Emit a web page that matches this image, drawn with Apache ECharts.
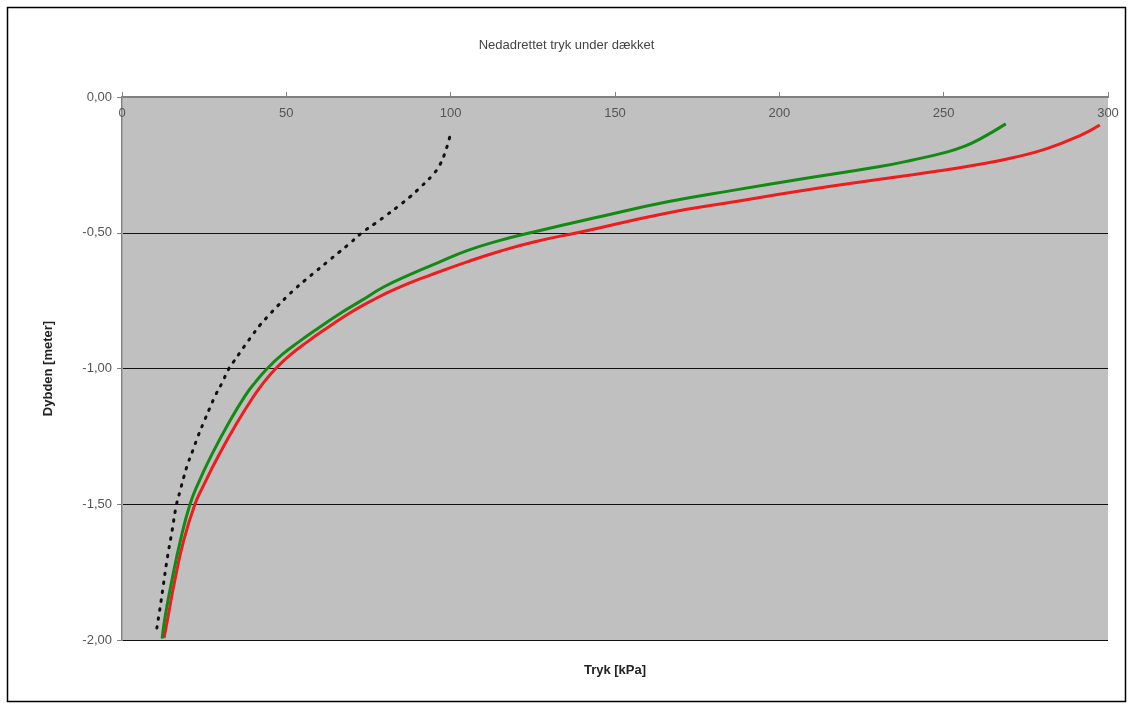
<!DOCTYPE html>
<html>
<head>
<meta charset="utf-8">
<script src="https://cdn.jsdelivr.net/npm/echarts@6/dist/echarts.min.js"></script>
<style>
html,body{margin:0;padding:0;background:#fff;}
#chart{width:1133px;height:706px;}
</style>
</head>
<body>
<div id="chart"></div>
<script>
// Data (x = tryk kPa, y = dybde m)
const seriesDotted = [[10.6,-1.956],[11.6,-1.88],[12.5,-1.805],[13.7,-1.705],[15.2,-1.60],[16.6,-1.50],[17.7,-1.45],[18.8,-1.40],[20.1,-1.348],[21.6,-1.30],[23.1,-1.25],[24.8,-1.20],[26.7,-1.146],[28.5,-1.097],[30.6,-1.049],[32.3,-1.005],[33.9,-0.976],[35.8,-0.943],[38,-0.905],[39.8,-0.875],[42,-0.84],[44.6,-0.805],[47.3,-0.77],[50.2,-0.735],[52.9,-0.704],[55.8,-0.674],[59,-0.642],[62.5,-0.607],[66,-0.572],[69.5,-0.537],[73,-0.50],[77.1,-0.465],[80.5,-0.435],[84,-0.403],[87.6,-0.368],[91,-0.33],[94.3,-0.29],[96.7,-0.25],[98.5,-0.197],[99.7,-0.148]];
const seriesGreen = [[12.2,-1.995],[13.1,-1.915],[15.2,-1.779],[17.8,-1.632],[20.7,-1.50],[23.3,-1.42],[27.0,-1.325],[32.5,-1.20],[37.5,-1.10],[40.6,-1.05],[44.2,-1.00],[48.6,-0.95],[54.0,-0.90],[59.9,-0.85],[66.0,-0.80],[72.8,-0.75],[79.6,-0.70],[87.4,-0.655],[96.2,-0.61],[105,-0.566],[114.5,-0.53],[125.3,-0.497],[145.7,-0.44],[166,-0.386],[186.3,-0.343],[206.7,-0.302],[230.6,-0.256],[240.6,-0.232],[250.9,-0.203],[256,-0.183],[261,-0.155],[268.9,-0.099]];
const seriesRed = [[12.8,-1.993],[14.0,-1.915],[16.1,-1.779],[18.8,-1.632],[22.2,-1.50],[24.6,-1.436],[29.2,-1.325],[35,-1.20],[40.2,-1.10],[43.2,-1.05],[46.8,-1.00],[51.2,-0.95],[56.6,-0.90],[62.5,-0.85],[68.7,-0.80],[76.0,-0.75],[83.6,-0.705],[94.0,-0.655],[105,-0.607],[115,-0.568],[125.3,-0.534],[139.6,-0.497],[166,-0.427],[186.3,-0.386],[206.7,-0.345],[230.6,-0.303],[240.6,-0.286],[251,-0.268],[261,-0.248],[271,-0.224],[281.4,-0.19],[291.5,-0.142],[297.5,-0.103]];
const xTicks = [0, 50, 100, 150, 200, 250, 300];
const yTickLabels = {'0':'0,00','-0.5':'-0,50','-1':'-1,00','-1.5':'-1,50','-2':'-2,00'};
const titleText = 'Nedadrettet tryk under dækket';
const xName = 'Tryk [kPa]';
const yName = 'Dybden [meter]';

const chart = echarts.init(document.getElementById('chart'), null, {renderer:'canvas'});
const font = '"Liberation Sans", Arial, sans-serif';
chart.setOption({
  animation: false,
  backgroundColor: '#fff',
  title: {
    text: titleText, left: 'center', top: 34,
    textStyle: {fontFamily: font, fontSize: 13, fontWeight: 'normal', color: '#444'}
  },
  graphic: [{
    type: 'rect', silent: true, z: 100,
    shape: {x: 7.5, y: 7.5, width: 1118, height: 694},
    style: {fill: 'none', stroke: '#000', lineWidth: 1.5}
  }],
  grid: {left: 122, top: 97, right: 25, bottom: 66, show: true, backgroundColor: '#c0c0c0', borderWidth: 0},
  xAxis: [{
    type: 'value', position: 'top', min: xTicks[0], max: xTicks[xTicks.length-1], interval: 50,
    axisLine: {show: true, lineStyle: {color: '#808080', width: 2}},
    axisTick: {show: true, inside: false, length: 5, lineStyle: {color: '#808080'}},
    axisLabel: {inside: true, margin: 10, fontFamily: font, fontSize: 13, color: '#555'},
    splitLine: {show: false}
  }, {
    type: 'value', position: 'bottom', min: xTicks[0], max: xTicks[xTicks.length-1],
    name: xName, nameLocation: 'middle', nameGap: 24,
    nameTextStyle: {fontFamily: font, fontSize: 13, fontWeight: 'bold', color: '#222'},
    axisLine: {show: true, lineStyle: {color: '#808080', width: 2}},
    axisTick: {show: false}, axisLabel: {show: false}, splitLine: {show: false}
  }],
  yAxis: [{
    type: 'value', min: -2, max: 0, interval: 0.5,
    name: yName, nameLocation: 'middle', nameGap: 67, nameRotate: 90,
    nameTextStyle: {fontFamily: font, fontSize: 13, fontWeight: 'bold', color: '#222'},
    axisLine: {show: true, lineStyle: {color: '#808080', width: 2}},
    axisTick: {show: true, length: 5, lineStyle: {color: '#808080'}},
    axisLabel: {margin: 10, fontFamily: font, fontSize: 13, color: '#555',
      formatter: v => yTickLabels[String(v)] || v.toFixed(2).replace('.', ',')},
    splitLine: {show: true, lineStyle: {color: '#111', width: 1}}
  }, {
    type: 'value', position: 'right', min: -2, max: 0,
    axisLine: {show: true, lineStyle: {color: '#a8a8a8', width: 1}},
    axisTick: {show: false}, axisLabel: {show: false}, splitLine: {show: false}
  }],
  series: [{
    type: 'line', data: seriesDotted, smooth: 0.5, showSymbol: false,
    lineStyle: {color: '#111', width: 3, type: [1.5, 7.5], cap: 'round'}
  }, {
    type: 'line', data: seriesRed, smooth: 0.5, showSymbol: false,
    lineStyle: {color: '#ee1c1c', width: 3}
  }, {
    type: 'line', data: seriesGreen, smooth: 0.5, showSymbol: false,
    lineStyle: {color: '#138a13', width: 3}
  }]
});
</script>
</body>
</html>
